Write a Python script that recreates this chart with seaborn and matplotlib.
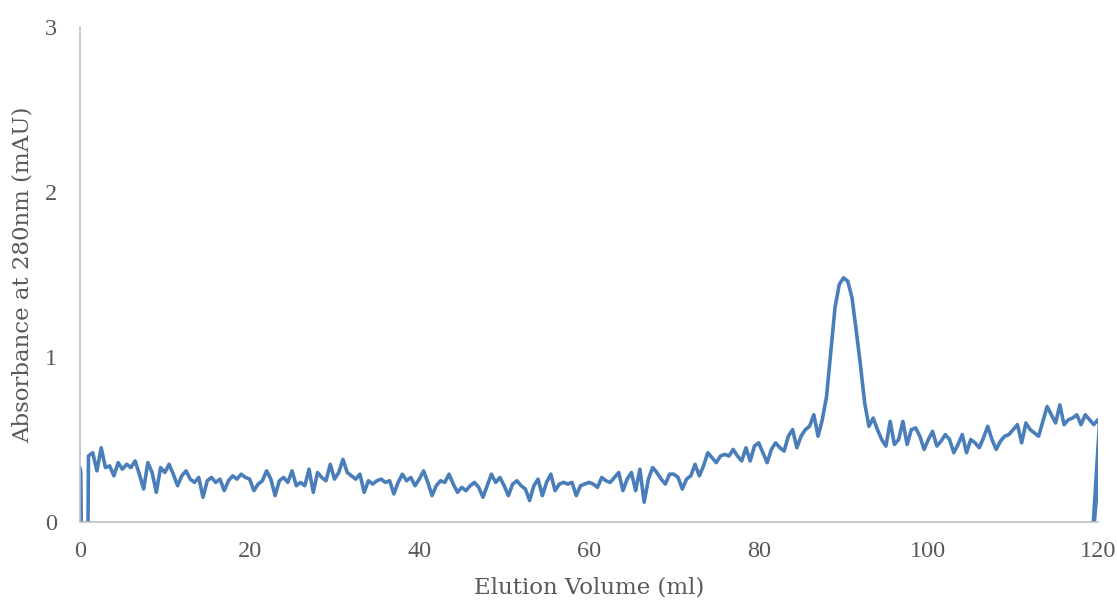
import numpy as np
import pandas as pd
import matplotlib
matplotlib.use("Agg")
import matplotlib.pyplot as plt
import seaborn as sns

# Chromatogram trace: absorbance at 280 nm sampled every 0.5 ml from 1.0 to 120.5 ml
volume_start, volume_step = 1.0, 0.5
absorbance = [
    0.40, 0.42, 0.31, 0.45, 0.33, 0.34, 0.28, 0.36, 0.32, 0.35,
    0.33, 0.37, 0.29, 0.20, 0.36, 0.30, 0.18, 0.33, 0.30, 0.35,
    0.29, 0.22, 0.28, 0.31, 0.26, 0.24, 0.27, 0.15, 0.25, 0.27,
    0.24, 0.26, 0.19, 0.25, 0.28, 0.26, 0.29, 0.27, 0.26, 0.19,
    0.23, 0.25, 0.31, 0.26, 0.16, 0.25, 0.27, 0.24, 0.31, 0.22,
    0.24, 0.22, 0.32, 0.18, 0.30, 0.27, 0.25, 0.35, 0.26, 0.30,
    0.38, 0.30, 0.28, 0.26, 0.29, 0.18, 0.25, 0.23, 0.25, 0.26,
    0.24, 0.25, 0.17, 0.24, 0.29, 0.25, 0.27, 0.22, 0.26, 0.31,
    0.24, 0.16, 0.22, 0.25, 0.24, 0.29, 0.23, 0.18, 0.21, 0.19,
    0.22, 0.24, 0.21, 0.15, 0.22, 0.29, 0.24, 0.27, 0.22, 0.16,
    0.23, 0.25, 0.22, 0.20, 0.13, 0.22, 0.26, 0.16, 0.24, 0.29,
    0.19, 0.23, 0.24, 0.23, 0.24, 0.16, 0.22, 0.23, 0.24, 0.23,
    0.21, 0.27, 0.25, 0.24, 0.27, 0.30, 0.19, 0.26, 0.30, 0.19,
    0.32, 0.12, 0.26, 0.33, 0.30, 0.26, 0.23, 0.29, 0.29, 0.27,
    0.20, 0.26, 0.28, 0.35, 0.28, 0.34, 0.42, 0.39, 0.36, 0.40,
    0.41, 0.40, 0.44, 0.40, 0.37, 0.45, 0.37, 0.46, 0.48, 0.42,
    0.36, 0.44, 0.48, 0.45, 0.43, 0.52, 0.56, 0.45, 0.52, 0.56,
    0.58, 0.65, 0.52, 0.62, 0.76, 1.03, 1.30, 1.44, 1.48, 1.46,
    1.36, 1.16, 0.95, 0.72, 0.58, 0.63, 0.56, 0.50, 0.46, 0.61,
    0.47, 0.50, 0.61, 0.47, 0.56, 0.57, 0.52, 0.44, 0.50, 0.55,
    0.46, 0.49, 0.53, 0.50, 0.42, 0.47, 0.53, 0.42, 0.50, 0.48,
    0.45, 0.51, 0.58, 0.50, 0.44, 0.49, 0.52, 0.53, 0.56, 0.59,
    0.48, 0.60, 0.56, 0.54, 0.52, 0.61, 0.70, 0.65, 0.60, 0.71,
    0.59, 0.62, 0.63, 0.65, 0.59, 0.65, 0.62, 0.59, 0.62, 0.56,
]

# Injection artefact at the start and the restart segment at the end of the run
head_volume = [0.0, 0.1, 0.2, 0.9]
head_absorbance = [0.33, 0.30, -0.40, -0.40]
tail_volume = [119.15, 120.5]
tail_absorbance = [-0.25, 0.87]

x_ticks = [0, 20, 40, 60, 80, 100, 120]
y_ticks = [0, 1, 2, 3]

main_volume = volume_start + volume_step * np.arange(len(absorbance))
df = pd.DataFrame({
    "volume": np.concatenate([head_volume, main_volume, tail_volume]),
    "absorbance": np.concatenate([head_absorbance, absorbance, tail_absorbance]),
})

sns.set_theme(style="white")
plt.rcParams["font.family"] = ["DejaVu Serif"]

fig = plt.figure(figsize=(11.17, 6.06), dpi=100)
ax = fig.add_axes([0.0716, 0.1386, 0.9114, 0.8168])

sns.lineplot(data=df, x="volume", y="absorbance", sort=False, estimator=None,
             color="#4a7ebb", linewidth=2.6, ax=ax)

ax.set_xlim(0, 120)
ax.set_ylim(0, 3)
ax.set_xticks(x_ticks)
ax.set_yticks(y_ticks)
ax.set_xticklabels([str(t) for t in x_ticks])
ax.set_yticklabels([str(t) for t in y_ticks])

text_color = "#595959"
ax.tick_params(axis="both", length=0, labelsize=17.5, colors=text_color)
ax.tick_params(axis="y", pad=16.5)
ax.tick_params(axis="x", pad=14)
for lbl in ax.get_xticklabels() + ax.get_yticklabels():
    lbl.set_fontfamily(["Liberation Serif", "DejaVu Serif"])

ax.set_xlabel("Elution Volume (ml)", fontsize=16.5, color=text_color, labelpad=10)
ax.set_ylabel("Absorbance at 280nm (mAU)", fontsize=16.5, color=text_color, labelpad=8)

for side in ["top", "right"]:
    ax.spines[side].set_visible(False)
for side in ["left", "bottom"]:
    ax.spines[side].set_color("#bfbfbf")
    ax.spines[side].set_linewidth(1.2)

fig.savefig("out.png", dpi=100, facecolor="white")
